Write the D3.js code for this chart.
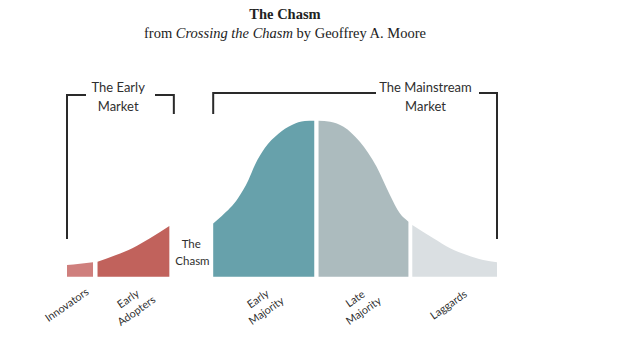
<!DOCTYPE html>
<html>
<head>
<meta charset="utf-8">
<script src="https://cdn.jsdelivr.net/npm/d3@7"></script>
<style>
  html, body { margin: 0; padding: 0; background: #fff; }
  svg { display: block; }
</style>
</head>
<body>
<svg id="chart" width="640" height="360"></svg>
<script>
// ---- Data ----
const title = "The Chasm";
const subtitleParts = ["from ", "Crossing the Chasm", " by Geoffrey A. Moore"];
const segmentNames = ["Innovators", "Early Adopters", "Early Majority", "Late Majority", "Laggards"];
const segmentLabelLines = [["Innovators"], ["Early", "Adopters"], ["Early", "Majority"], ["Late", "Majority"], ["Laggards"]];
const segmentColors = ["#cf7f7d", "#c1625c", "#67a1ab", "#acbbbe", "#dadfe2"];
// position along adoption axis (0–100) and relative adoption density (% of peak)
const innovatorsPos = [0, 3, 6.05];
const innovatorsVal = [7.5, 8.3, 9.2];
const earlyAdoptersPos = [7.1, 11.4, 15.3, 19.3, 23.8];
const earlyAdoptersVal = [9.6, 13.9, 18.4, 24.6, 32.5];
const earlyMajorityPos = [34.0, 36.0, 39.8, 42.2, 43.7, 46.0, 49.1, 52.3, 55.3, 57.5];
const earlyMajorityVal = [34.1, 38.9, 50.4, 62.0, 71.6, 82.5, 91.5, 97.2, 99.8, 100];
const lateMajorityPos = [58.5, 61.2, 64.3, 68.1, 72.0, 75.1, 77.4, 79.4];
const lateMajorityVal = [100, 99.4, 96.2, 86.5, 70.5, 52.4, 40.6, 35.3];
const laggardsPos = [80.3, 85.2, 89.1, 93.0, 96.8, 100];
const laggardsVal = [33.1, 24.6, 18.2, 13.9, 10.7, 9.3];
const marketGroups = [
  { lines: ["The Early", "Market"], from: 0, to: 1 },
  { lines: ["The Mainstream", "Market"], from: 2, to: 4 }
];
const chasmLabel = ["The", "Chasm"];

// ---- Build series ----
const posArrays = [innovatorsPos, earlyAdoptersPos, earlyMajorityPos, lateMajorityPos, laggardsPos];
const valArrays = [innovatorsVal, earlyAdoptersVal, earlyMajorityVal, lateMajorityVal, laggardsVal];
const segments = segmentNames.map((name, i) => ({
  name, lines: segmentLabelLines[i], color: segmentColors[i],
  pts: posArrays[i].map((p, j) => ({ x: p, y: valArrays[i][j] }))
}));

// ---- Layout ----
const svg = d3.select("#chart");
const baseY = 276.7;
const x = d3.scaleLinear().domain([0, 100]).range([67, 497]);
const y = d3.scaleLinear().domain([0, 100]).range([baseY, 120.7]);
const sansFont = "Lato, 'Open Sans', sans-serif";
const textColor = "#2f2f2f";

// Title
svg.append("text").attr("x", 285).attr("y", 19).attr("text-anchor", "middle")
  .attr("font-family", "'Liberation Serif', 'DejaVu Serif', serif")
  .attr("font-weight", "bold").attr("font-size", 14.5).attr("fill", "#222").text(title);
const sub = svg.append("text").attr("x", 285).attr("y", 37.5).attr("text-anchor", "middle")
  .attr("font-family", "'Liberation Serif', 'DejaVu Serif', serif")
  .attr("font-size", 14.5).attr("fill", "#222");
subtitleParts.forEach((t, i) => {
  sub.append("tspan").attr("font-style", i === 1 ? "italic" : "normal").text(t);
});

// Areas
const area = d3.area()
  .x(d => x(d.x)).y0(y(0)).y1(d => y(d.y))
  .curve(d3.curveMonotoneX);
svg.append("g").selectAll("path").data(segments).join("path")
  .attr("d", d => area(d.pts))
  .attr("fill", d => d.color);

// Segment labels (rotated)
const labelShift = [-13, -1, -1.5, -4, -6];
const labelG = svg.append("g");
segments.forEach((s, i) => {
  const cx = (x(s.pts[0].x) + x(s.pts[s.pts.length - 1].x)) / 2 + labelShift[i];
  const cy = 305;
  const n = s.lines.length;
  const lh = 14.5;
  const t = labelG.append("text")
    .attr("transform", `translate(${cx},${cy}) rotate(-35)`)
    .attr("text-anchor", "middle")
    .attr("font-family", sansFont).attr("font-size", 10.8).attr("fill", "#2f2f2f");
  s.lines.forEach((ln, k) => {
    t.append("tspan").attr("x", 0).attr("y", (k - (n - 1) / 2) * lh + 3.5).text(ln);
  });
});

// Chasm label
const chasmX = (x(earlyAdoptersPos[earlyAdoptersPos.length - 1]) + x(earlyMajorityPos[0])) / 2;
const ct = svg.append("text").attr("text-anchor", "middle")
  .attr("font-family", sansFont).attr("font-size", 11.5).attr("fill", textColor);
chasmLabel.forEach((ln, k) => {
  ct.append("tspan").attr("x", chasmX + k * 1.2).attr("y", 248 + k * 16.8).text(ln);
});

// Brackets
const br = svg.append("g").attr("fill", "none").attr("stroke", "#2a2a2a").attr("stroke-width", 2)
  .attr("stroke-linecap", "square");
// Early market
{
  const g = marketGroups[0];
  const s0 = segments[g.from], s1 = segments[g.to];
  const lx = x(s0.pts[0].x), rx = x(s1.pts[s1.pts.length - 1].x) + 4.5;
  const top = 95;
  br.append("path").attr("d", `M${lx},${y(24.8)} V${top} H85`);
  br.append("path").attr("d", `M156,${top} H${rx} V113`);
  const tx = (lx + x(s1.pts[s1.pts.length - 1].x)) / 2;
  svg.append("text").attr("x", tx).attr("y", 92).attr("text-anchor", "middle")
    .attr("font-family", sansFont).attr("font-size", 13).attr("fill", textColor).text(g.lines[0]);
  svg.append("text").attr("x", tx).attr("y", 111).attr("text-anchor", "middle")
    .attr("font-family", sansFont).attr("font-size", 13).attr("fill", textColor).text(g.lines[1]);
}
// Mainstream market
{
  const g = marketGroups[1];
  const s0 = segments[g.from], s1 = segments[g.to];
  const lx = x(s0.pts[0].x), rx = x(s1.pts[s1.pts.length - 1].x);
  const top = 93;
  br.append("path").attr("d", `M${lx},113 V${top} H375`);
  br.append("path").attr("d", `M480,${top} H${rx} V${y(24.8)}`);
  const tx = 425.5;
  svg.append("text").attr("x", tx).attr("y", 92).attr("text-anchor", "middle")
    .attr("font-family", sansFont).attr("font-size", 13).attr("fill", textColor).text(g.lines[0]);
  svg.append("text").attr("x", tx).attr("y", 111).attr("text-anchor", "middle")
    .attr("font-family", sansFont).attr("font-size", 13).attr("fill", textColor).text(g.lines[1]);
}
</script>
</body>
</html>
